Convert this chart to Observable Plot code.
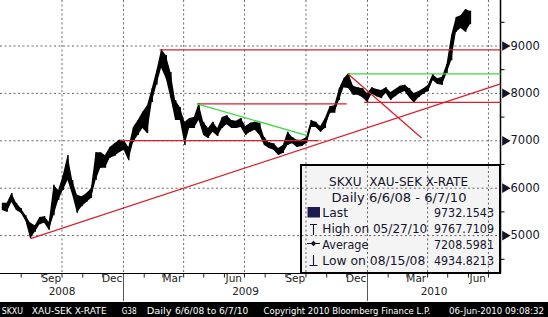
<!DOCTYPE html>
<html><head><meta charset="utf-8">
<script src="https://cdn.jsdelivr.net/npm/d3@7"></script>
<script src="https://cdn.jsdelivr.net/npm/@observablehq/plot@0.6"></script>
<style>
html,body{margin:0;padding:0;background:#fff;}
#wrap{position:relative;width:548px;height:317px;overflow:hidden;font-family:"DejaVu Sans",sans-serif;}
#wrap svg{display:block;}
#overlay{position:absolute;left:0;top:0;pointer-events:none;}
</style></head>
<body><div id="wrap"></div>
<script>
// ---------- data (weekly high / low / close, XAU-SEK) ----------
const firstWeek = "2008-07-04";
const weekHigh = [5680,5680,5890,5680,5570,5420,5260,5210,5380,5400,5280,6060,5950,6270,6690,6160,5850,5820,5890,5990,
  6750,6750,6690,6860,6940,7010,7010,6860,7280,7430,7600,7740,8100,8480,8920,8800,8440,7850,7700,7390,
  7470,7490,7780,7390,7260,7390,7260,7490,7530,7430,7410,7470,7300,7370,7390,7370,7070,6960,6940,6840,
  6900,7180,7070,7010,7010,7070,7430,7390,7300,7470,7720,7740,8100,8310,8420,8150,8120,8100,8000,8120,
  8080,8060,8120,8020,8080,8150,8170,8100,8000,8040,8100,8170,8400,8310,8340,8610,9220,9600,9640,9768,9730];
const weekLow = [5530,5490,5700,5530,5470,5300,4935,5070,5230,5260,5110,5420,5740,5950,6160,5850,5470,5610,5700,5780,
  6160,6420,6420,6630,6670,6750,6800,6580,6960,7110,7260,7150,7810,8170,8530,8310,7890,7430,7430,6900,
  7260,7260,7430,7110,7050,7180,7090,7260,7340,7260,7260,7280,7110,7180,7220,7110,6900,6840,6800,6690,
  6730,6900,6940,6860,6880,6940,7280,7280,7180,7260,7580,7580,7850,8120,8100,7960,7960,7910,7810,7980,
  7930,7890,8000,7850,7930,8000,8040,7910,7790,7910,7980,8040,8270,8190,8170,8420,8690,9290,9370,9290,9450];
const weekClose = [5590,5570,5820,5610,5510,5360,5070,5150,5320,5340,5190,5850,5850,6160,6420,5950,5740,5700,5820,5910,
  6540,6580,6580,6800,6840,6900,6880,6750,7110,7260,7470,7600,7960,8380,8740,8590,8100,7600,7580,7260,
  7370,7430,7600,7220,7150,7300,7180,7390,7470,7340,7320,7390,7200,7280,7320,7220,6990,6900,6860,6750,
  6840,7050,7010,6940,6940,7010,7370,7320,7240,7390,7640,7680,8000,8230,8310,8060,8040,8000,7910,8060,
  8000,7980,8060,7910,8000,8060,8100,8000,7910,7980,8040,8100,8340,8250,8270,8530,9010,9450,9540,9580,9732];

// analyst trend lines: [start date, start value, end date, end value]
const redLines = [
  ["2008-08-15", 4935, "2010-07-19", 8200],
  ["2009-02-24", 8920, "2010-07-19", 8920],
  ["2008-12-27", 7005, "2009-10-20", 7005],
  ["2009-04-21", 7780, "2009-12-01", 7780],
  ["2009-12-27", 7810, "2010-07-19", 7810],
  ["2009-12-03", 8410, "2010-03-23", 7060]
];
const greenLines = [
  ["2009-04-21", 7780, "2009-10-03", 7110],
  ["2009-12-03", 8410, "2010-07-19", 8410]
];

const xStartStr = "2008-07-01", xEndStr = "2010-07-19";
const yDomain = [4200, 9960];
const yLabels = [5000, 6000, 7000, 8000, 9000];
const yMinor = [4500, 5500, 6500, 7500, 8500, 9500];
const monthLabelDates = ["2008-09-15","2008-12-15","2009-03-15","2009-06-15","2009-09-15","2009-12-15","2010-03-15","2010-06-15"];
const monthLabelNames = ["Sep","Dec","Mar","Jun","Sep","Dec","Mar","Jun"];
const yearNames = ["2008","2009","2010"];

const legendTitle = "SKXU  XAU-SEK X-RATE";
const legendSub = "Daily 6/6/08 - 6/7/10";
const legendLabels = ["Last", "High on 05/27/10", "Average", "Low on 08/15/08"];
const legendValues = ["9732.1543", "9767.7109", "7208.5981", "4934.8213"];
const footerTexts = ["SKXU", "XAU-SEK X-RATE", "G38", "Daily", "6/6/08 to 6/7/10", "Copyright 2010 Bloomberg Finance L.P.", "06-Jun-2010 09:08:32"];

// ---------- build ----------
const P = s => new Date(s + "T00:00:00Z");
const xStart = P(xStartStr), xEnd = P(xEndStr);
const start = P(firstWeek);
const weeks = weekHigh.map((h, i) => ({date: d3.utcDay.offset(start, 7 * i), high: h, low: weekLow[i], close: weekClose[i]}));
const toLink = a => ({x1: P(a[0]), y1: a[1], x2: P(a[2]), y2: a[3]});
const reds = redLines.map(toLink), greens = greenLines.map(toLink);
const monthStarts = d3.utcMonth.range(d3.utcDay.offset(xStart, 1), xEnd);
const quarterStarts = monthStarts.filter(d => d.getUTCMonth() % 3 === 0);
const yearStarts = monthStarts.filter(d => d.getUTCMonth() === 0);
const monthLabels = monthLabelDates.map((d, i) => ({date: P(d), name: monthLabelNames[i]}));
const years = yearNames.map(y => {
  const a = new Date(Math.max(P(y + "-01-01"), xStart)), b = new Date(Math.min(P((+y + 1) + "-01-01"), xEnd));
  return {name: y, date: new Date((+a + +b) / 2)};
});
const gridStyle = {stroke: "#6a6a6a", strokeOpacity: 1, strokeDasharray: "2,2.5"};

const chart = Plot.plot({
  width: 548, height: 302,
  marginLeft: 0, marginRight: 48, marginTop: 0, marginBottom: 29,
  style: {fontFamily: "DejaVu Sans, sans-serif", fontSize: "10px", color: "#141428", background: "transparent", overflow: "visible"},
  x: {type: "utc", domain: [xStart, xEnd], axis: null},
  y: {domain: yDomain, axis: null},
  marks: [
    Plot.gridY(yLabels, gridStyle),
    Plot.gridX(quarterStarts, gridStyle),
    Plot.axisX(monthStarts, {anchor: "bottom", tickSize: 4.5, tickFormat: () => "", label: null, stroke: "#222"}),
    Plot.axisX(yearStarts, {anchor: "bottom", tickSize: 28, tickFormat: () => "", label: null, stroke: "#555"}),
    Plot.text(monthLabels, {x: "date", text: "name", frameAnchor: "bottom", dy: 8, fontSize: 10.5, fill: "#222"}),
    Plot.text(years, {x: "date", text: "name", frameAnchor: "bottom", dy: 21.5, fontSize: 10.5, fill: "#222"}),
    Plot.ruleY([yDomain[0]], {stroke: "#000", strokeWidth: 1}),
    Plot.ruleX([xEnd], {stroke: "#000", strokeWidth: 1.5}),
    Plot.axisY(yMinor, {anchor: "right", tickSize: 3.5, tickFormat: () => "", label: null, stroke: "#000"}),
    Plot.dot(yLabels, {x: () => xEnd, y: d => d, symbol: "triangle", rotate: 90, r: 3.6, fill: "#141428", stroke: null, dx: 4.5}),
    Plot.text(yLabels, {x: () => xEnd, y: d => d, text: d => String(d), dx: 10, textAnchor: "start", fontSize: 11.5, fill: "#141428"}),
    Plot.areaY(weeks, {x: "date", y1: "low", y2: "high", fill: "#000"}),
    Plot.ruleX(weeks, {x: "date", y1: "low", y2: "high", stroke: "#000", strokeWidth: 1.4}),
    Plot.line(weeks, {x: "date", y: "close", stroke: "#000", strokeWidth: 1.6}),
    Plot.link(reds, {x1: "x1", y1: "y1", x2: "x2", y2: "y2", stroke: "#d8202e", strokeWidth: 1.3}),
    Plot.link(greens, {x1: "x1", y1: "y1", x2: "x2", y2: "y2", stroke: "#3fd83f", strokeWidth: 1.3})
  ]
});
const wrap = document.getElementById("wrap");
wrap.appendChild(chart);

// ---------- legend box and footer bar (overlay) ----------
const ov = d3.select(wrap).append("svg").attr("id", "overlay").attr("width", 548).attr("height", 317)
  .style("font-family", "DejaVu Sans, sans-serif");
const ink = "#15152c";
ov.append("rect").attr("x", 301).attr("y", 165).attr("width", 199).attr("height", 108)
  .attr("fill", "rgba(0,0,0,0.045)").attr("stroke", "#000").attr("stroke-width", 2);
const fit = (sel, t, x, y, w, size, anchor, fill) => sel.append("text").attr("x", x).attr("y", y)
  .attr("font-size", size).attr("fill", fill).attr("text-anchor", anchor || "start")
  .attr("textLength", w).attr("lengthAdjust", "spacingAndGlyphs").style("white-space", "pre").text(t);
fit(ov, legendTitle, 329, 186, 139, 13, "start", ink);
fit(ov, legendSub, 331.5, 201.5, 135, 13, "start", ink);
const rowY = [217.3, 233.3, 249, 265];
const labelW = [25.7, 105, 46, 103];
legendLabels.forEach((t, i) => fit(ov, t, 322.3, rowY[i], labelW[i], 13, "start", ink));
legendValues.forEach((t, i) => fit(ov, t, 494, rowY[i], 60, 13, "end", ink));
// icons
ov.append("rect").attr("x", 307.5).attr("y", 207).attr("width", 12.5).attr("height", 10.5).attr("fill", "#1c1c50");
const ic = ov.append("g").attr("stroke", ink).attr("stroke-width", 1.1).attr("fill", "none");
ic.append("path").attr("d", "M310,224.5H317M313.5,224.5V235");
ic.append("path").attr("d", "M307,243.5H320M313.5,241.5V245.5M311.5,243.5L313.5,241.5L315.5,243.5L313.5,245.5Z");
ic.append("path").attr("d", "M313.5,255V265.5M309.5,265.5H317.5");
// footer
ov.append("rect").attr("x", 0).attr("y", 302).attr("width", 548).attr("height", 15).attr("fill", "#000");
const fx = [1.7, 31.7, 121.7, 146.7, 175, 263.5, 544];
const fw = [21.3, 75, 15, 25, 73.3, 167, 95];
const fa = ["start", "start", "start", "start", "start", "start", "end"];
footerTexts.forEach((t, i) => fit(ov, t, fx[i], 313.8, fw[i], 9, fa[i], "#fff"));
</script></body></html>
